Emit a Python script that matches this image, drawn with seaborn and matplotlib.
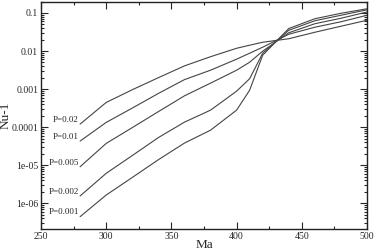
import numpy as np
import pandas as pd
import seaborn as sns
import matplotlib
matplotlib.use("Agg")
import matplotlib.pyplot as plt
from matplotlib.ticker import MultipleLocator, LogLocator, FixedFormatter, FixedLocator, NullFormatter

# Marangoni number samples
ma = [280, 300, 320, 340, 360, 380, 400, 410, 420, 440, 460, 480, 500]

# Nu-1 for each Prandtl number
nu_p002 = [1.20e-4, 4.45e-4, 9.6e-4, 1.99e-3, 4.06e-3, 7.08e-3, 1.18e-2, 1.42e-2, 1.70e-2, 2.10e-2, 3.11e-2, 4.48e-2, 6.43e-2]
nu_p001 = [4.3e-5, 1.33e-4, 3.16e-4, 7.67e-4, 1.77e-3, 3.13e-3, 6.1e-3, 8.75e-3, 1.26e-2, 2.76e-2, 4.22e-2, 5.87e-2, 8.7e-2]
nu_p0005 = [9.08e-6, 3.73e-5, 9.7e-5, 2.55e-4, 6.63e-4, 1.43e-3, 3.13e-3, 5.08e-3, 9.9e-3, 3.02e-2, 5.21e-2, 7.26e-2, 0.106]
nu_p0002 = [1.55e-6, 6.1e-6, 1.79e-5, 5.3e-5, 1.35e-4, 2.79e-4, 8.8e-4, 1.87e-3, 8.75e-3, 3.51e-2, 6.24e-2, 8.7e-2, 0.121]
nu_p0001 = [4.43e-7, 1.64e-6, 4.75e-6, 1.39e-5, 3.8e-5, 8.3e-5, 2.79e-4, 9.35e-4, 7.76e-3, 3.90e-2, 7.05e-2, 9.8e-2, 0.129]

labels = ["P=0.02", "P=0.01", "P=0.005", "P=0.002", "P=0.001"]
curves = [nu_p002, nu_p001, nu_p0005, nu_p0002, nu_p0001]

ytick_vals = [1e-6, 1e-5, 1e-4, 1e-3, 1e-2, 1e-1]
ytick_labels = ["1e-06", "1e-05", "0.0001", "0.001", "0.01", "0.1"]

sns.set_style("ticks")
plt.rcParams['font.family'] = ['Liberation Serif', 'DejaVu Serif']

fig = plt.figure(figsize=(3.74, 2.52), dpi=100)
ax = fig.add_axes([0.1096, 0.0913, 0.8717, 0.9027])

for lab, nu in zip(labels, curves):
    df = pd.DataFrame({"Ma": ma, "Nu1": nu})
    sns.lineplot(data=df, x="Ma", y="Nu1", ax=ax, color="#444444", linewidth=0.8)
    ax.annotate(lab, (ma[0], nu[0]), xytext=(-1, 3), textcoords="offset points",
                ha="right", va="center", fontsize=6.5)

ax.set_yscale("log")
ax.set_xlim(250, 500)
ax.set_ylim(2.1e-7, 0.2)

ax.xaxis.set_major_locator(MultipleLocator(50))
ax.xaxis.set_minor_locator(MultipleLocator(25))
ax.yaxis.set_major_locator(FixedLocator(ytick_vals))
ax.yaxis.set_major_formatter(FixedFormatter(ytick_labels))
ax.yaxis.set_minor_locator(LogLocator(base=10, subs=np.arange(2, 10), numticks=20))
ax.yaxis.set_minor_formatter(NullFormatter())

ax.tick_params(which="both", direction="in", top=True, right=True, labelsize=7, width=0.8, pad=2)
ax.tick_params(which="major", length=5)
ax.tick_params(which="minor", length=2.5)
for s in ax.spines.values():
    s.set_linewidth(1.0)
    s.set_color("#222222")

ax.set_xlabel("Ma", fontsize=9.5, labelpad=-1)
ax.set_ylabel("Nu-1", fontsize=9.5, labelpad=0)

fig.savefig("out.png", dpi=100)
